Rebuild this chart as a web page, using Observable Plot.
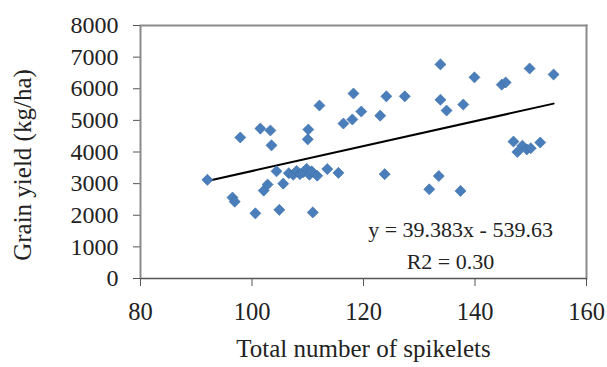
<!DOCTYPE html>
<html>
<head>
<meta charset="utf-8">
<script src="https://cdn.jsdelivr.net/npm/d3@7"></script>
<script src="https://cdn.jsdelivr.net/npm/@observablehq/plot@0.6"></script>
<style>
  html, body { margin: 0; padding: 0; background: #fff; }
  #chart svg { display: block; }
  #chart svg text { font-family: 'Liberation Serif', 'Times New Roman', serif !important; }
</style>
</head>
<body>
<div id="chart"></div>
<script>
// Total number of spikelets (x) and grain yield in kg/ha (y)
const spikelets = [92.0, 96.5, 96.9, 97.9, 100.6, 101.5, 102.1, 102.8, 103.3, 103.5,
  104.4, 104.9, 105.6, 106.6, 107.4, 108.0, 108.6, 109.2, 109.8, 110.0,
  110.1, 110.3, 110.7, 110.9, 111.7, 112.1, 113.5, 115.5, 116.4, 118.0,
  118.2, 119.6, 123.0, 123.8, 124.1, 127.4, 131.8, 133.5, 133.8, 133.8,
  134.9, 137.4, 137.9, 139.9, 144.8, 145.5, 146.9, 147.6, 148.5, 149.3,
  149.8, 150.0, 151.7, 154.1];
const grainYield = [3120, 2560, 2430, 4460, 2060, 4740, 2780, 2970, 4680, 4210,
  3390, 2170, 3000, 3330, 3280, 3400, 3300, 3360, 3470, 4400,
  4710, 3280, 3390, 2090, 3250, 5470, 3460, 3340, 4900, 5030,
  5850, 5280, 5150, 3300, 5760, 5760, 2820, 3240, 6770, 5650,
  5310, 2770, 5500, 6360, 6130, 6200, 4330, 4000, 4200, 4080,
  6640, 4120, 4300, 6450];

// Trend line equation (as printed on the chart)
const slope = 39.383;
const intercept = -539.63;
const equationLabels = ["y = 39.383x - 539.63", "R2 = 0.30"];
const equationAt = [[137.4, 1550], [135.6, 510]];

const xTicks = [80, 100, 120, 140, 160];
const yTicks = [0, 1000, 2000, 3000, 4000, 5000, 6000, 7000, 8000];
const xLabel = "Total number of spikelets";
const yLabel = "Grain yield (kg/ha)";

const points = spikelets.map((x, i) => ({x, y: grainYield[i]}));
const xExt = d3.extent(spikelets);
const trend = xExt.map(x => ({x, y: slope * x + intercept}));
const notes = equationLabels.map((t, i) => ({t, x: equationAt[i][0], y: equationAt[i][1]}));

const serif = "'Liberation Serif', 'Times New Roman', serif";
const axisColor = "#8a8a8a";

const chart = Plot.plot({
  width: 607,
  height: 367,
  marginLeft: 140,
  marginRight: 21,
  marginTop: 25,
  marginBottom: 89,
  style: {fontFamily: serif, color: "#222", background: "#fff"},
  x: {domain: [80, 160]},
  y: {domain: [0, 8000]},
  marks: [
    // top and right border of plot area
    Plot.frame({anchor: "top", stroke: axisColor, strokeWidth: 2}),
    Plot.frame({anchor: "right", stroke: axisColor, strokeWidth: 2}),
    Plot.axisY({ticks: yTicks, tickFormat: d => String(d), tickSize: 7, tickPadding: 15, fontSize: 24,
      fontFamily: serif, fill: "#222", label: null, stroke: "#555"}),
    Plot.axisX({ticks: xTicks, tickFormat: d => String(d), tickSize: 8, tickPadding: 16, fontSize: 24.5,
      fontFamily: serif, fill: "#222", label: null, stroke: "#555"}),
    Plot.ruleY([0], {stroke: "#555", strokeWidth: 1.5}),
    Plot.ruleX([80], {stroke: axisColor, strokeWidth: 2}),
    Plot.line(trend, {x: "x", y: "y", stroke: "#000", strokeWidth: 2}),
    Plot.dot(points, {x: "x", y: "y", symbol: "diamond2", r: 5, fill: "#4a7ebb", stroke: "#3d6ea8", strokeWidth: 0.6}),
    Plot.text(notes, {x: "x", y: "y", text: "t", fontSize: 22, fill: "#222", fontFamily: serif}),
    Plot.text([xLabel], {frameAnchor: "bottom", dy: 78, fontSize: 25, fill: "#222", fontFamily: serif}),
    Plot.text([yLabel], {frameAnchor: "left", dx: -118, dy: 13, rotate: -90, textAnchor: "middle", fontSize: 25, fill: "#222", fontFamily: serif})
  ]
});
document.getElementById("chart").appendChild(chart);
</script>
</body>
</html>
